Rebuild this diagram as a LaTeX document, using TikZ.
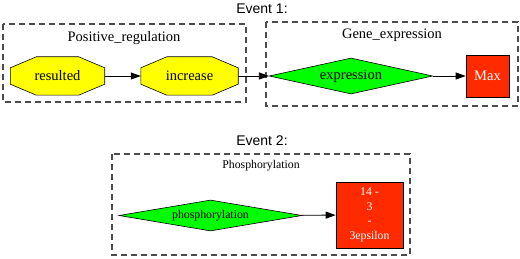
\documentclass[tikz,border=0pt]{standalone}
\usepackage{fontspec}
\setmainfont{Liberation Serif}
\setsansfont{Liberation Sans}
\usetikzlibrary{shapes.geometric,arrows.meta,calc,backgrounds}
\definecolor{gvred}{HTML}{FF2A00}
\definecolor{gvgreen}{HTML}{00FF00}
\definecolor{gvyellow}{HTML}{FFFF00}
\tikzset{
  cluster/.style={draw=black!70, line width=1.1pt, dash pattern=on 6pt off 4pt},
  octa/.style={rectangle, minimum width=95pt, minimum height=38pt, inner sep=0pt, font=\fontsize{14.5}{16}\selectfont},
  octline/.style={draw=black, line width=0.6pt, fill=gvyellow},
  dia/.style={diamond, aspect=8, draw=black, line width=0.6pt, fill=gvgreen, inner sep=0pt},
  redbox/.style={rectangle, draw=black, line width=0.6pt, fill=gvred, text=white, inner sep=0pt, align=center},
  edge/.style={line width=0.8pt, -{Triangle[length=10pt,width=7pt]}},
  title/.style={font=\sffamily\fontsize{14}{16}\selectfont},
}
\newcommand{\octagonof}[1]{%
  \begin{scope}[on background layer]
  \path[octline] ($(#1.north west)+(26,0)$) -- ($(#1.north east)+(-26,0)$) -- ($(#1.north east)+(0,11)$)
    -- ($(#1.south east)+(0,-11)$) -- ($(#1.south east)+(-26,0)$) -- ($(#1.south west)+(26,0)$)
    -- ($(#1.south west)+(0,-11)$) -- ($(#1.north west)+(0,11)$) -- cycle;
  \end{scope}}
\begin{document}
\begin{tikzpicture}[x=1pt,y=-1pt]
\useasboundingbox (0,0) rectangle (520,259);
% Event 1
\node[title] (t1) at (262,9) {Event 1:};
\draw[cluster] (3,24) rectangle (246,102);
\node[font=\fontsize{14.5}{16}\selectfont] (l1) at (124,38) {Positive\_regulation};
\draw[cluster] (266,22) rectangle (518,106);
\node[font=\fontsize{14.5}{16}\selectfont] (l2) at (392,35) {Gene\_expression};
\node[octa, minimum width=94pt] (resulted) at (57.5,76) {resulted};
\node[octa, minimum width=97pt] (increase) at (189.5,76) {increase};
\octagonof{resulted}
\octagonof{increase}
\node[dia, minimum width=152pt, minimum height=36pt, font=\fontsize{14.5}{16}\selectfont] (expression) at (351,76) {expression};
\node[redbox, minimum width=43pt, minimum height=42pt, font=\fontsize{14.5}{16}\selectfont] (max) at (487.5,76) {Max};
\draw[edge] (resulted) -- (increase);
\draw[edge] (increase) -- (expression);
\draw[edge] (expression) -- (max);
% Event 2
\node[title] (t2) at (262,141) {Event 2:};
\draw[cluster] (112,154) rectangle (410,255);
\node[font=\fontsize{11.8}{13}\selectfont] (l3) at (261,166) {Phosphorylation};
\node[dia, minimum width=183pt, minimum height=31pt, font=\fontsize{11.8}{13}\selectfont] (phos) at (210.5,215.5) {phosphorylation};
\node[redbox, minimum width=67pt, minimum height=66pt, font=\fontsize{11.8}{14.7}\selectfont] (eps) at (369.5,215) {14 -\\3\\-\\3epsilon};
\draw[edge] (phos) -- (eps);
\end{tikzpicture}
\end{document}
